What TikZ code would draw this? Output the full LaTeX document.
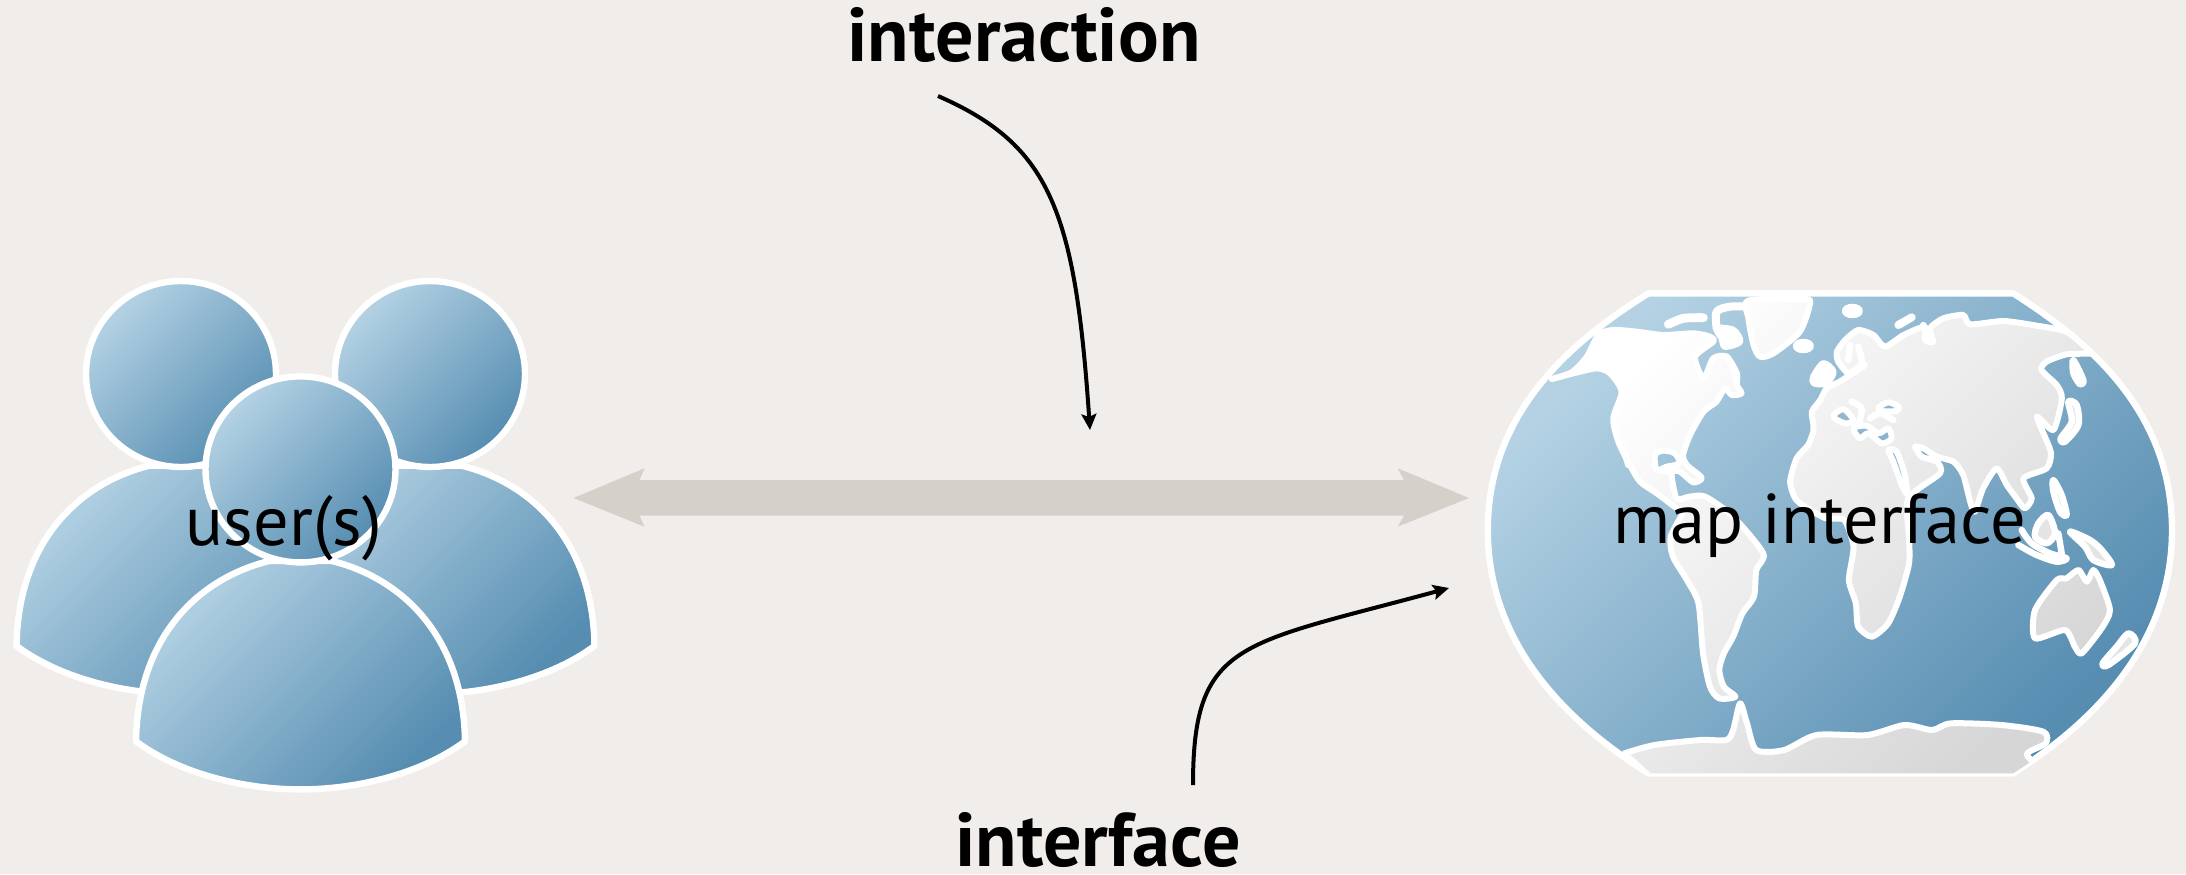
\documentclass[tikz,border=0pt]{standalone}
\usepackage{fontspec}
\setmainfont{PT Sans}
\usetikzlibrary{arrows.meta}
\definecolor{bgc}{HTML}{F1EDEA}
\definecolor{barc}{HTML}{D5D0CA}
\definecolor{bluelt}{HTML}{B4D2E4}
\definecolor{bluedk}{HTML}{568DB1}
\definecolor{landlt}{HTML}{FFFFFF}
\definecolor{landdk}{HTML}{D6D6D6}
\definecolor{islegrey}{HTML}{E4E4E4}
\tikzset{
  x=0.5pt,y=-0.5pt,
  blueshade/.style={shading=axis,left color=bluelt,right color=bluedk,shading angle=45,draw=white,line width=3.2pt,line join=round},
  landshade/.style={shading=axis,left color=landlt,right color=landdk,shading angle=45,draw=white,line width=3pt,line join=round,even odd rule},
  pointer/.style={black,line width=2pt,-{Stealth[length=8pt,width=7.5pt,inset=1.5pt]}},
  lbl/.style={text=black,inner sep=0pt,anchor=base,font=\fontsize{35.2pt}{35.2pt}\selectfont},
  blbl/.style={text=black,inner sep=0pt,anchor=base,font=\fontsize{38pt}{38pt}\selectfont\bfseries},
  isle/.style={white,line width=3.2pt,line cap=round,line join=round},
  fisle/.style={isle,fill=islegrey},
  wisle/.style={isle,fill=white},
  west/.style={shift={(1540,285)},x=0.16667pt,y=-0.16667pt},
  east/.style={shift={(1790,285)},x=0.16667pt,y=-0.16667pt},
  south/.style={shift={(1950,500)},x=0.16667pt,y=-0.16667pt},
}
\newcommand{\personshape}[2]{%
  \shadedraw[blueshade] (#1-164.5,#2+272) .. controls (#1-163,#2+170) and (#1-105,#2+110) .. (#1-31.5,#2+91.6)
     -- (#1+31.5,#2+91.6) .. controls (#1+105,#2+110) and (#1+163,#2+170) .. (#1+164.5,#2+272)
     .. controls (#1+120,#2+305) and (#1+55,#2+320) .. (#1,#2+320)
     .. controls (#1-55,#2+320) and (#1-120,#2+305) .. (#1-164.5,#2+272) -- cycle;
  \shadedraw[blueshade] (#1,#2) ellipse [x radius=95,y radius=93];
}
\def\mapoutline{(407,70) -- (1195,70) .. controls (1330,190) and (1538,400) .. (1538,780) .. controls (1538,1160) and (1330,1390) .. (1195,1510) -- (407,1510) .. controls (270,1390) and (60,1160) .. (60,780) .. controls (60,400) and (270,190) .. (407,70) -- cycle}
\begin{document}
\begin{tikzpicture}
\useasboundingbox (0,0) rectangle (2186,874);
\fill[bgc] (0,0) rectangle (2186,874);

% double arrow
\fill[barc] (573.5,498) -- (644.5,468.3) -- (639.6,480) -- (1404,480) -- (1397.7,468.3) -- (1469,498)
  -- (1397.7,526.7) -- (1404,515.7) -- (639.6,515.7) -- (644.5,526.7) -- cycle;

% users
\personshape{181}{374}
\personshape{430}{374}
\personshape{300.5}{469.4}

% map
\begin{scope}[shift={(1460,270)},x=0.23148pt,y=-0.16667pt]
  \shadedraw[blueshade] \mapoutline;
  \begin{scope}
    \clip \mapoutline;
    \shadedraw[landshade]
      % Americas
      plot[smooth cycle,tension=.45] coordinates {(198,327) (241,307) (274,260) (299,195) (331,180) (382,185) (439,195) (504,190) (540,200) (547,215) (508,260) (526,325) (547,265) (576,260) (598,310) (598,345) (608,370) (587,375) (572,355) (554,395) (526,425) (497,495) (482,555) (490,585) (522,623) (504,637) (475,605) (457,610) (468,685) (495,680) (530,680) (590,740) (655,850) (640,900) (635,980) (610,1030) (590,1100) (570,1150) (560,1200) (570,1250) (595,1280) (560,1285) (540,1250) (525,1150) (515,1000) (490,930) (460,860) (455,800) (480,730) (468,715) (425,670) (389,635) (367,585) (342,515) (331,445) (349,365) (324,310) (295,295) (245,310)}
      % Gulf of Mexico (hole)
      plot[smooth cycle,tension=.5] coordinates {(425,600) (421,555) (439,542) (464,550) (474,580) (446,590)}
      % Greenland
      plot[smooth cycle,tension=.45] coordinates {(623,92) (741,87) (756,100) (734,185) (677,250) (648,260) (634,225) (623,145)}
      % Eurasia + Africa
      plot[smooth cycle,tension=.4] coordinates {(1364,250) (1354,235) (1310,185) (1246,167) (1174,153) (1102,163) (1087,135) (1044,145) (1015,175) (1022,215) (1004,210) (1004,170) (958,195) (918,230) (893,195) (860,180) (832,210) (814,245) (817,275) (842,313) (875,285) (820,335) (792,355) (778,390) (760,425) (763,460) (763,485) (752,525) (727,565) (713,635) (724,685) (745,710) (790,745) (830,750) (850,830) (840,930) (855,1000) (860,1070) (890,1100) (925,1060) (950,980) (970,880) (970,800) (968,685) (1037,610) (1030,575) (997,560) (983,530) (1001,535) (1030,560) (1066,575) (1087,615) (1102,695) (1112,725) (1130,655) (1159,595) (1181,645) (1202,685) (1220,715) (1235,685) (1217,625) (1267,595) (1276,545) (1246,440) (1282,480) (1300,385) (1289,345) (1256,300) (1267,275) (1310,253)}
      % Mediterranean, Black Sea, Red Sea (holes)
      plot[smooth cycle,tension=.5] coordinates {(806,440) (828,417) (850,450) (832,460)}
      plot[smooth cycle,tension=.5] coordinates {(850,475) (878,467) (904,490) (925,475) (932,505) (911,520) (882,490) (864,505)}
      plot[smooth cycle,tension=.5] coordinates {(904,413) (925,397) (947,410) (943,423) (911,423)}
      plot[smooth cycle,tension=.5] coordinates {(925,540) (943,545) (961,615) (965,670) (954,645) (936,575)}
      % Australia
      plot[smooth cycle,tension=.4] coordinates {(1336,900) (1354,935) (1368,900) (1382,930) (1404,1020) (1386,1075) (1343,1150) (1328,1130) (1307,1080) (1242,1105) (1242,1020) (1289,930) (1310,925)}
      % Antarctica
      plot[smooth,tension=.45] coordinates {(355,1450) (420,1425) (520,1410) (575,1410) (590,1380) (605,1300) (620,1360) (640,1440) (700,1440) (770,1395) (880,1395) (960,1365) (1020,1380) (1060,1360) (1170,1365) (1260,1385) (1265,1420) (1225,1450) (1190,1520) (410,1520)} -- cycle;
  \end{scope}
\end{scope}
% islands and coastal detail
\begin{scope}[west]
  \draw[isle,line width=4.4pt] plot[smooth] coordinates {(385,118) (430,100) (490,98)};
  \draw[isle,line width=4pt] plot[smooth] coordinates {(530,130) (530,80) (570,65) (625,65)};
  \draw[wisle] plot[smooth cycle] coordinates {(530,130) (580,135) (600,170) (555,185) (545,160)};
  \draw[isle] plot[smooth] coordinates {(560,215) (575,240) (590,290)};
  \draw[wisle] (790,183) ellipse [x radius=22,y radius=12];
  \draw[isle] plot[smooth] coordinates {(250,490) (265,540)};
  \draw[isle] plot[smooth] coordinates {(360,555) (385,560) (400,545)};
\end{scope}
\begin{scope}[east]
  \draw[wisle] (187,78) ellipse [x radius=22,y radius=12];
  \draw[isle,line width=4pt] plot[smooth] coordinates {(325,120) (365,97)};
  \draw[isle] plot[smooth] coordinates {(400,120) (420,165)};
  \draw[isle] plot[smooth] coordinates {(205,185) (215,235) (180,265)};
  \draw[isle] plot[smooth] coordinates {(180,180) (175,225)};
  \draw[wisle] plot[smooth cycle] coordinates {(100,235) (130,260) (110,295) (72,295) (70,275)};
  \draw[isle] plot[smooth] coordinates {(185,350) (215,370) (205,420)};
  \draw[isle] plot[smooth] coordinates {(240,400) (270,385) (310,405)};
  \draw[fisle] plot[smooth cycle] coordinates {(850,225) (880,285) (870,298) (850,265)};
  \draw[fisle] plot[smooth cycle] coordinates {(835,350) (860,360) (865,420) (825,470) (812,460) (845,410)};
  \draw[fisle] plot[smooth cycle] coordinates {(790,585) (815,630) (830,690) (810,680) (790,620)};
\end{scope}
\begin{scope}[south]
  \draw[fisle] plot[smooth cycle] coordinates {(295,45) (315,100) (290,130) (255,110) (265,70)};
  \draw[isle] plot[smooth] coordinates {(205,135) (260,165) (320,185) (350,175) (300,160) (245,130) (215,90)};
  \draw[isle] plot[smooth] coordinates {(325,100) (335,160)};
  \draw[fisle] plot[smooth cycle] coordinates {(360,95) (420,120) (455,150) (485,195) (430,180) (405,140)};
  \draw[fisle] plot[smooth cycle] coordinates {(535,400) (555,430) (475,495) (458,490) (500,440)};
\end{scope}

% labels
\node[lbl] (users) at (284,545) {user(s)};
\node[lbl] (mapi) at (1820,543) {map interface};
\node[blbl] (interaction) at (1024,61) {interaction};
\node[blbl] (interface) at (1098,866) {interface};

% pointers
\coordinate (a1) at (938,96);
\coordinate (a2) at (1090,430);
\coordinate (b1) at (1193,785);
\coordinate (b2) at (1449,588);
\draw[pointer] (a1) .. controls (1050,145) and (1075,210) .. (a2);
\draw[pointer] (b1) .. controls (1193,640) and (1240,645) .. (b2);
\end{tikzpicture}
\end{document}
